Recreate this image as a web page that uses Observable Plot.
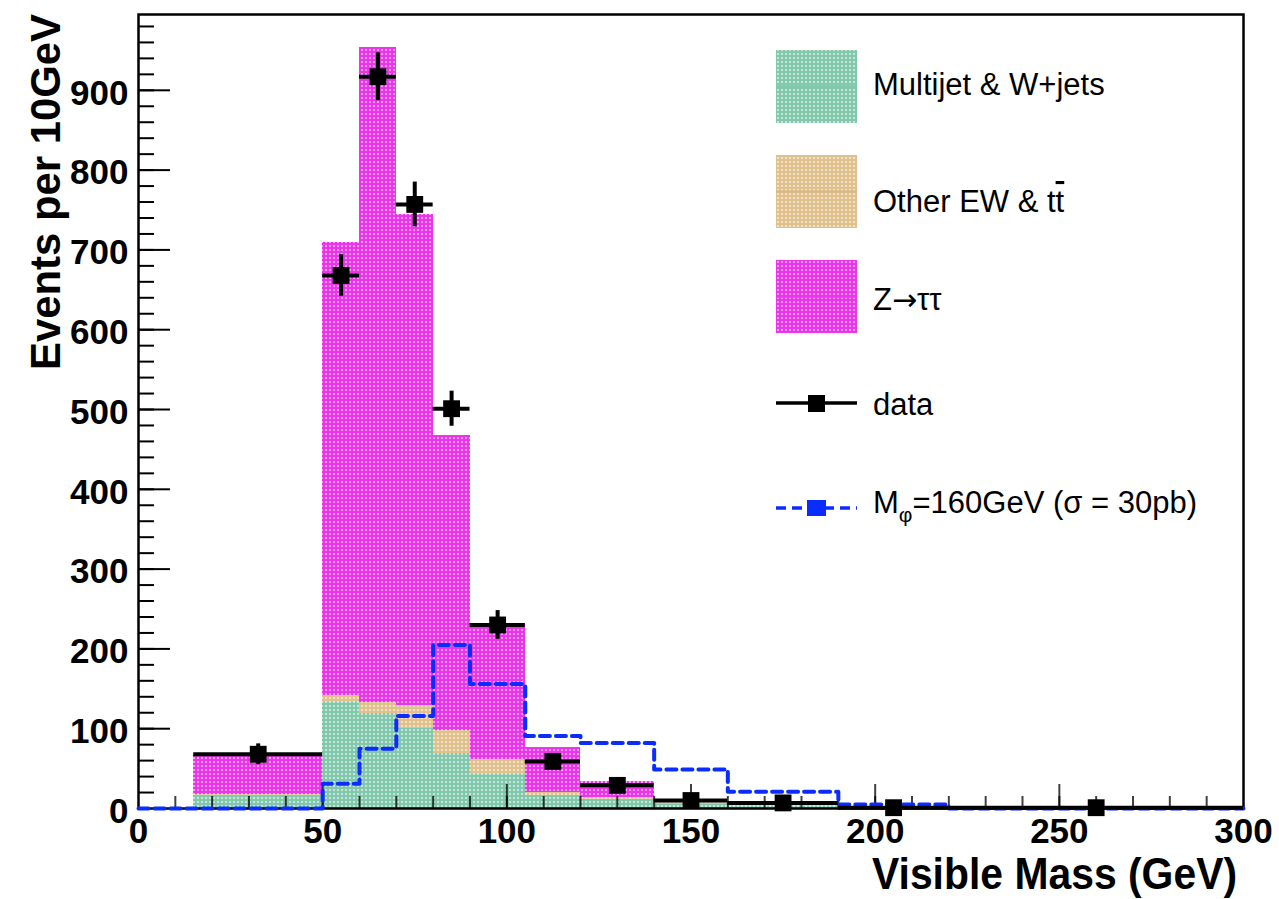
<!DOCTYPE html>
<html><head><meta charset="utf-8">
<script src="https://cdn.jsdelivr.net/npm/d3@7"></script>
<script src="https://cdn.jsdelivr.net/npm/@observablehq/plot@0.6"></script>
<style>
html,body{margin:0;padding:0;background:#fff;}
#chart{width:1279px;height:899px;}
</style></head><body><div id="chart"></div>
<script>
// ---- data ----
const binEdges   = [15, 50, 60, 70, 80, 90, 105, 120, 140, 160, 190, 220, 300];
const multijet   = [16, 133, 119, 100, 69, 43, 16, 11, 5, 3, 0.7, 0.2];
const otherEW    = [1, 8, 14, 29, 29, 18, 4, 3, 2, 1, 0.3, 0.1];
const ztautau    = [49, 568, 821, 615, 369, 171, 57, 20, 4, 2, 0.5, 0.1];
const dataCenters = [32.5, 55, 65, 75, 85, 97.5, 112.5, 130, 150, 175, 205, 260];
const dataValues  = [68, 668, 917, 757, 501, 230, 59, 29, 10, 7, 1, 1];
const dataErrors  = [13, 26, 30, 28, 22, 18, 8, 6, 3, 3, 1, 1];
const signalEdges  = [0, 15, 50, 60, 70, 80, 90, 105, 120, 140, 160, 190, 220, 300];
const signalValues = [0, 0, 31, 75, 116, 205, 156, 91, 82, 49, 21, 5, 0];
const xTickLabels = [0, 50, 100, 150, 200, 250, 300];
const yTickLabels = [0, 100, 200, 300, 400, 500, 600, 700, 800, 900];
const legendLabels = ["Multijet & W+jets", "Other EW & t", "Z", "\u2192", "\u03c4\u03c4", "data", "M", "\u03c6", "=160GeV (\u03c3 = 30pb)"];

// ---- derived tables ----
const stackRows = binEdges.slice(0, -1).map((x1, i) => {
  const m = multijet[i], o = m + otherEW[i], z = o + ztautau[i];
  return {x1, x2: binEdges[i + 1], m, o, z};
});
const dataRows = dataCenters.map((c, i) => ({
  c, lo: binEdges[i], hi: binEdges[i + 1], v: dataValues[i], e: dataErrors[i]
}));
const sigPts = signalEdges.map((x, i) => ({x, y: signalValues[Math.min(i, signalValues.length - 1)]}));

const W = 1279, H = 899, mT = 14, mR = 36, mB = 91, mL = 138;
const pw = W - mL - mR, ph = H - mT - mB;
const FONT = "'Liberation Sans', Arial, Helvetica, sans-serif";
const yMinor = d3.range(20, 995, 20), yMajor = yTickLabels.slice(1);
const xMinor = d3.range(10, 300, 10), xMajor = xTickLabels.slice(1, -1);

const C_MJ = "#82c8ad", C_EW = "#e0c18c", C_Z = "#ee33ee", C_SIG = "#0b2cff";

const chart = Plot.plot({
  width: W, height: H,
  marginTop: mT, marginRight: mR, marginBottom: mB, marginLeft: mL,
  x: {domain: [0, 300]},
  y: {domain: [0, 995]},
  style: {fontFamily: FONT, color: "black", background: "white", overflow: "visible"},
  marks: [
    Plot.rectY(stackRows, {x1: "x1", x2: "x2", y1: 0, y2: "m", fill: "url(#pMJ)", shapeRendering: "crispEdges"}),
    Plot.rectY(stackRows, {x1: "x1", x2: "x2", y1: "m", y2: "o", fill: "url(#pEW)", shapeRendering: "crispEdges"}),
    Plot.rectY(stackRows, {x1: "x1", x2: "x2", y1: "o", y2: "z", fill: "url(#pZ)", shapeRendering: "crispEdges"}),
    // inward ticks, ROOT style
    Plot.tickY(yMinor, {y: d => d, insetRight: pw - 16, stroke: "black", strokeWidth: 2}),
    Plot.tickY(yMajor, {y: d => d, insetRight: pw - 32, stroke: "black", strokeWidth: 2}),
    Plot.tickX(xMinor, {x: d => d, insetTop: ph - 12, stroke: "black", strokeWidth: 2, strokeOpacity: 0.75}),
    Plot.tickX(xMajor, {x: d => d, insetTop: ph - 24, stroke: "black", strokeWidth: 2, strokeOpacity: 0.75}),
    Plot.axisY({ticks: yTickLabels, tickSize: 0, tickPadding: 10, fontSize: 35, fontWeight: "bold", fontFamily: FONT, label: null, dy: 3}),
    Plot.axisX({ticks: xTickLabels, tickSize: 0, tickPadding: 10, fontSize: 35, fontWeight: "bold", fontFamily: FONT, label: null}),
    Plot.frame({stroke: "black", strokeWidth: 2.5}),
    Plot.line(sigPts, {x: "x", y: "y", curve: "step-after", stroke: C_SIG, strokeWidth: 4, strokeDasharray: "10,6"}),
    Plot.ruleY(dataRows, {x1: "lo", x2: "hi", y: "v", stroke: "black", strokeWidth: 4}),
    Plot.ruleX(dataRows, {x: "c", y1: d => d.v - d.e, y2: d => d.v + d.e, stroke: "black", strokeWidth: 4}),
    Plot.dot(dataRows, {x: "c", y: "v", symbol: "square", r: 9.5, fill: "black", stroke: "none"})
  ]
});
document.getElementById("chart").appendChild(chart);

const svg = d3.select(chart);
// patterns: ROOT-like dotted fill
const defs = svg.insert("defs", ":first-child");
[["pMJ", C_MJ], ["pEW", C_EW], ["pZ", C_Z]].forEach(([id, col]) => {
  const p = defs.append("pattern").attr("id", id).attr("patternUnits", "userSpaceOnUse")
    .attr("width", 4).attr("height", 4);
  p.append("rect").attr("width", 4).attr("height", 4).attr("fill", col);
  p.append("rect").attr("x", 1).attr("y", 1).attr("width", 2).attr("height", 2).attr("fill", "white").attr("opacity", 0.55);
});

// axis titles
svg.append("text").attr("x", 1237).attr("y", 889).attr("text-anchor", "end")
  .attr("font-family", FONT).attr("font-weight", "bold").attr("font-size", 44)
  .attr("textLength", 365).attr("lengthAdjust", "spacingAndGlyphs").attr("fill", "black")
  .text("Visible Mass (GeV)");
svg.append("text").attr("transform", "translate(60,14) rotate(-90)").attr("text-anchor", "end")
  .attr("font-family", FONT).attr("font-weight", "bold").attr("font-size", 43)
  .attr("textLength", 356).attr("lengthAdjust", "spacingAndGlyphs").attr("fill", "black")
  .text("Events per 10GeV");

// legend
const lg = svg.append("g").attr("font-family", FONT).attr("font-size", 31).attr("fill", "black")
  .attr("text-anchor", "start");
const boxes = [[50, "pMJ", C_MJ], [155, "pEW", "#d9b983"], [260, "pZ", C_Z]];
boxes.forEach(([y0, pid, lc]) => {
  lg.append("rect").attr("x", 776).attr("y", y0).attr("width", 81).attr("height", 73).attr("fill", `url(#${pid})`);
  lg.append("line").attr("x1", 776).attr("x2", 857).attr("y1", y0 + 36.5).attr("y2", y0 + 36.5)
    .attr("stroke", lc).attr("stroke-width", 2.5);
});
lg.append("text").attr("x", 873).attr("y", 95).text(legendLabels[0]);
const ew = lg.append("text").attr("x", 873).attr("y", 212);
ew.append("tspan").text(legendLabels[1]);
ew.append("tspan").style("text-decoration", "overline").text("t");
const zt = lg.append("text").attr("x", 873).attr("y", 310);
zt.append("tspan").text(legendLabels[2]);
zt.append("tspan").attr("font-family", "'DejaVu Sans', sans-serif").attr("font-size", 30).text(legendLabels[3]);
zt.append("tspan").text(legendLabels[4]);
// data
lg.append("line").attr("x1", 776).attr("x2", 857).attr("y1", 403).attr("y2", 403).attr("stroke", "black").attr("stroke-width", 3.5);
lg.append("rect").attr("x", 808).attr("y", 395).attr("width", 17).attr("height", 17).attr("fill", "black");
lg.append("text").attr("x", 873).attr("y", 415).text(legendLabels[5]);
// signal
lg.append("line").attr("x1", 776).attr("x2", 857).attr("y1", 508).attr("y2", 508).attr("stroke", C_SIG)
  .attr("stroke-width", 3.5).attr("stroke-dasharray", "10,6");
lg.append("rect").attr("x", 807).attr("y", 500).attr("width", 19).attr("height", 16).attr("fill", C_SIG);
const st = lg.append("text").attr("x", 873).attr("y", 513);
st.append("tspan").text(legendLabels[6]);
st.append("tspan").attr("font-size", 21).attr("dy", 9).text(legendLabels[7]);
st.append("tspan").attr("dy", -9).text(legendLabels[8]);
</script>
</body></html>
